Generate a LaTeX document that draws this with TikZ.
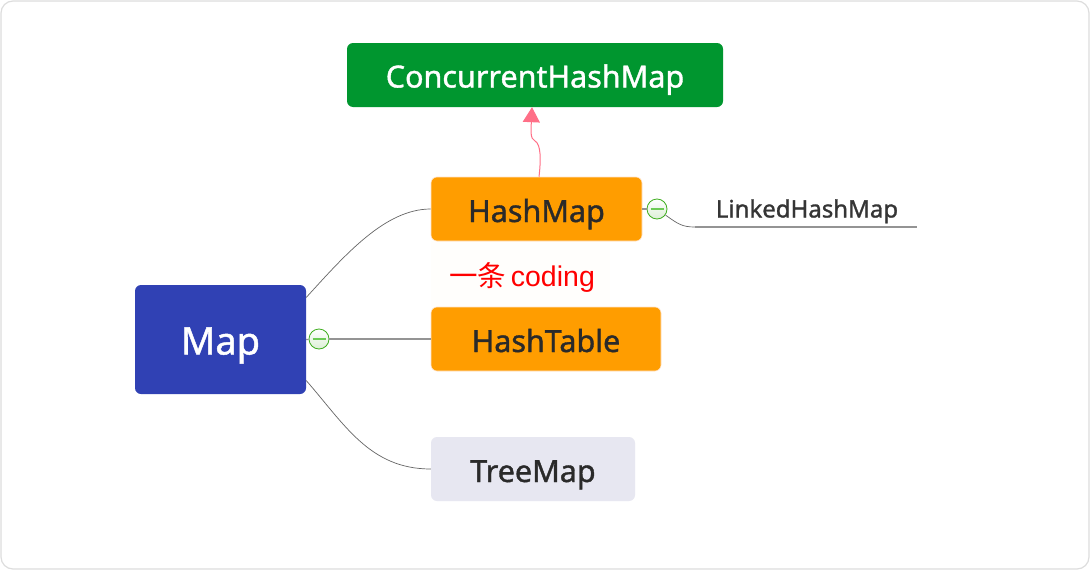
\documentclass[tikz,border=0pt]{standalone}
\usepackage{fontspec}
\setmainfont{Noto Sans}
\newfontfamily\cjkfont{Noto Sans CJK SC}
\newfontfamily\arialfont{Liberation Sans}
\newcommand{\lbl}[2]{\raisebox{-#1pt}[0pt][0pt]{\addfontfeature{FakeBold=1.2}#2}}
\usetikzlibrary{arrows.meta}
\definecolor{frameC}{HTML}{DDDDDD}
\definecolor{blueC}{HTML}{3041B4}
\definecolor{greenC}{HTML}{00962F}
\definecolor{orangeC}{HTML}{FF9D00}
\definecolor{greyC}{HTML}{E7E7F1}
\definecolor{inkC}{HTML}{2A2A2A}
\definecolor{pinkC}{HTML}{FF6F87}
\definecolor{lineC}{HTML}{666666}
\definecolor{collapseC}{HTML}{3FAE1F}
\definecolor{collapseF}{HTML}{DCEFD6}
\definecolor{barC}{HTML}{6CCB55}
\tikzset{
  x=1pt,y=-1pt,
  topic/.style={rectangle,rounded corners=6pt,inner sep=0pt,text=inkC,font=\fontsize{30.5}{36}\selectfont},
  lnk/.style={draw=lineC,line width=0.7pt},
  lnkthick/.style={draw=lineC!70!white,line width=1.2pt},
  collapse/.style={circle,draw=collapseC,line width=0.8pt,minimum size=20pt,inner sep=0pt,top color=white,bottom color=collapseF,path picture={\draw[barC,line width=1.4pt] ([xshift=-6.5pt]path picture bounding box.center) -- ([xshift=6.5pt]path picture bounding box.center);}}
}
\begin{document}
\begin{tikzpicture}
\useasboundingbox (0,0) rectangle (1090,570);
\draw[frameC,line width=1.2pt,fill=white,rounded corners=12pt] (1,1) rectangle (1089,569);
\fill[white!99!orange] (431,241) rectangle (610,307);
\node[topic,fill=greenC,text=white,minimum width=376pt,minimum height=64pt] (chm) at (535,75) {\lbl{12.5}{ConcurrentHashMap}};
\node[topic,fill=orangeC,draw=white!80!orange,line width=0.6pt,minimum width=211pt,minimum height=64pt] (hm) at (536.5,209) {\lbl{13}{HashMap}};
\node[topic,fill=orangeC,draw=white!80!orange,line width=0.6pt,minimum width=230pt,minimum height=64pt] (ht) at (546,339) {\lbl{13}{HashTable}};
\node[topic,fill=greyC,minimum width=204pt,minimum height=64pt] (tm) at (533,469) {\lbl{13}{TreeMap}};
\node[topic,fill=blueC,text=white,minimum width=171pt,minimum height=109pt,font=\fontsize{38}{44}\selectfont] (map) at (220.5,339.5) {\lbl{15}{Map}};
\node[inner sep=0pt,text=inkC!95!white,font=\fontsize{24}{28}\selectfont] (lhm) at (807,209) {\lbl{8.5}{LinkedHashMap}};
\node[inner sep=0pt,text=red,font=\fontsize{28.5}{32}\selectfont] (note) at (522,277.5) {{\cjkfont 一条}\,{\arialfont coding}};
\coordinate (lhmL) at (695,227);
\coordinate (lhmR) at (917,227);
\draw[lnk] ([yshift=42pt]map.east) .. controls (345,255) and (385,209) .. (hm.west);
\draw[lnk] ([yshift=-41pt]map.east) .. controls (345,425) and (370,469) .. (tm.west);
\node[collapse] (c1) at (657,209) {};
\node[collapse] (c2) at (319,339) {};
\draw[lnkthick] (map.east) -- (c2);
\draw[lnkthick] (c2) -- (ht.west);
\draw[lnkthick] (hm.east) -- (c1);
\draw[lnk] (c1) .. controls (678,224) and (682,227) .. (lhmL);
\draw[lnkthick] (lhmL) -- (lhmR);
\draw[pinkC,line width=1pt,-{Triangle[length=15pt,width=17pt]}] ([xshift=2.5pt]hm.north) .. controls (541,160) and (541,144) .. (535,141) .. controls (530,139) and (531,130) .. ([xshift=-3pt]chm.south);
\end{tikzpicture}
\end{document}
